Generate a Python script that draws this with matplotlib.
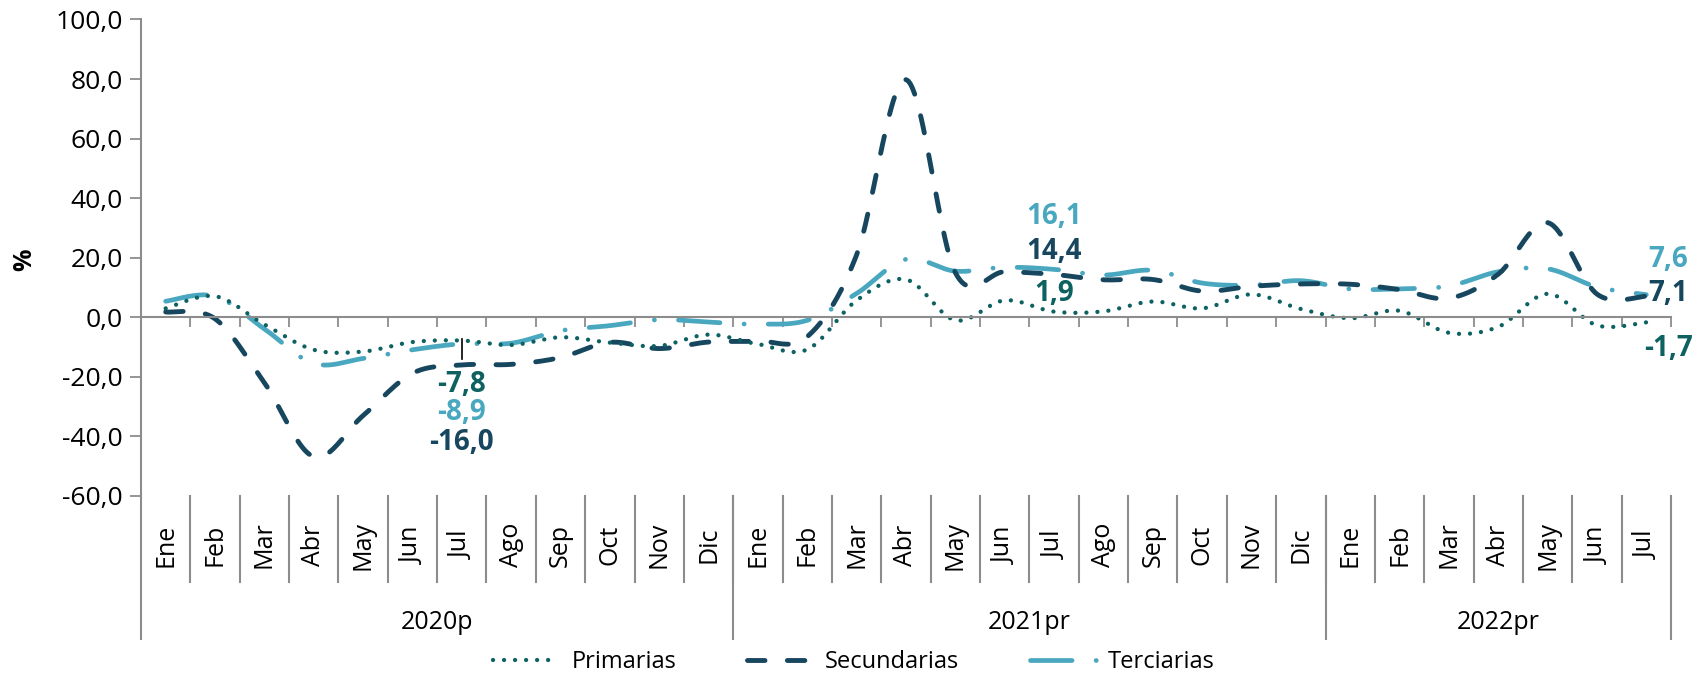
import numpy as np
import matplotlib
matplotlib.use("Agg")
import matplotlib.pyplot as plt
from matplotlib.lines import Line2D

plt.rcParams['font.family'] = ['Open Sans', 'DejaVu Sans']

months = ["Ene", "Feb", "Mar", "Abr", "May", "Jun", "Jul", "Ago", "Sep", "Oct", "Nov", "Dic"]
month_labels = months + months + months[:7]
years = ["2020p", "2021pr", "2022pr"]
year_lengths = [12, 12, 7]

# variacion anual (%), Ene 2020 - Jul 2022
primarias = [3.0, 7.1, -2.4, -10.9, -11.5, -8.3, -7.8, -9.3, -6.7, -8.5, -9.6, -5.8,
             -9.0, -10.8, 5.7, 12.7, -1.0, 5.7, 1.9, 2.0, 5.3, 3.0, 7.7, 2.8,
             -0.3, 2.2, -5.2, -3.2, 7.9, -2.7, -1.7]
secundarias = [1.8, -0.5, -22.0, -46.8, -33.0, -18.8, -16.0, -15.8, -13.5, -8.4, -10.5, -8.3,
               -8.0, -6.5, 21.0, 79.8, 15.0, 15.3, 14.4, 12.6, 12.7, 8.8, 10.4, 11.2,
               11.1, 9.3, 6.4, 14.5, 31.8, 7.8, 7.1]
terciarias = [5.4, 7.1, -3.9, -15.5, -13.8, -10.9, -8.9, -8.7, -4.5, -2.8, -0.8, -1.6,
              -2.3, -1.0, 8.0, 19.5, 15.5, 16.8, 16.1, 14.2, 15.8, 11.5, 10.8, 12.3,
              9.5, 9.6, 10.5, 15.3, 16.3, 10.2, 7.6]

C_PRIM = "#0E6161"
C_SEC = "#17465F"
C_TERC = "#49A7BF"
GRAY = "#8C8C8C"


def excel_smooth(values, steps=24):
    # bezier smoothing like excel's "smoothed line"
    pts = np.column_stack([np.arange(len(values), dtype=float), np.asarray(values, float)])
    padded = np.vstack([pts[0], pts, pts[-1]])
    t = np.linspace(0, 1, steps)[:, None]
    out = []
    for i in range(len(pts) - 1):
        p0, p1, p2, p3 = padded[i], padded[i + 1], padded[i + 2], padded[i + 3]
        c1 = p1 + (p2 - p0) / 6
        c2 = p2 - (p3 - p1) / 6
        seg = (1 - t) ** 3 * p1 + 3 * (1 - t) ** 2 * t * c1 + 3 * (1 - t) * t ** 2 * c2 + t ** 3 * p2
        out.append(seg if i == 0 else seg[1:])
    seg = np.vstack(out)
    return seg[:, 0], seg[:, 1]


fig = plt.figure(figsize=(16.98, 6.73), dpi=100)
ax = fig.add_axes([141 / 1698, 1 - 496 / 673, 1530 / 1698, 476.5 / 673])

styles = {
    "Primarias": dict(color=C_PRIM, lw=3.1, linestyle=(0, (0.01, 2.55)), dash_capstyle="round"),
    "Secundarias": dict(color=C_SEC, lw=3.5, linestyle=(0, (3.6, 4.6)), dash_capstyle="round"),
    "Terciarias": dict(color=C_TERC, lw=3.4, linestyle=(0, (8.8, 5.1, 0.03, 5.1)), dash_capstyle="round"),
}

for name, vals in [("Terciarias", terciarias), ("Secundarias", secundarias), ("Primarias", primarias)]:
    xs, ys = excel_smooth(vals)
    ax.plot(xs, ys, **styles[name])

ax.set_xlim(-0.5, 30.5)
ax.set_ylim(-60, 100)
yt = list(range(-60, 101, 20))
ax.set_yticks(yt)
ax.set_yticklabels([f"{v:.1f}".replace(".", ",") for v in yt])
ax.tick_params(axis="y", length=8, width=1.3, color=GRAY, labelsize=19, pad=5)

for s in ["top", "right"]:
    ax.spines[s].set_visible(False)
ax.spines["left"].set_color(GRAY)
ax.spines["left"].set_linewidth(1.5)
ax.spines["bottom"].set_position(("data", 0))
ax.spines["bottom"].set_color(GRAY)
ax.spines["bottom"].set_linewidth(1.5)
ax.set_xticks(np.arange(0.5, 31, 1))
ax.set_xticklabels([])
ax.tick_params(axis="x", length=7, width=1.3, color=GRAY, direction="out")

# category axis below the plot
tr = ax.get_xaxis_transform()
for i, lbl in enumerate(month_labels):
    ax.text(i, -0.103, lbl, transform=tr, rotation=90, ha="center", va="center", fontsize=18)
    if i < len(month_labels) - 1:
        ax.plot([i + 0.5, i + 0.5], [0, -0.18], transform=tr, color=GRAY, lw=1.5, clip_on=False)

start = -0.5
ax.plot([start, start], [0, -0.30], transform=tr, color=GRAY, lw=1.5, clip_on=False)
for yr, n in zip(years, year_lengths):
    end = start + n
    ax.plot([end, end], [0, -0.30], transform=tr, color=GRAY, lw=1.5, clip_on=False)
    ax.text((start + end) / 2, -0.2665, yr, transform=tr, ha="center", va="center", fontsize=18)
    start = end

# data labels
lab = dict(ha="center", va="center", fontsize=20, fontweight="bold", clip_on=False)
ax.plot([6, 6], [-7.3, -14.0], color="black", lw=1.2)
ax.text(6, -22.5, "-7,8", color=C_PRIM, **lab)
ax.text(6, -32.0, "-8,9", color=C_TERC, **lab)
ax.text(6, -42.1, "-16,0", color=C_SEC, **lab)
ax.text(18, 33.9, "16,1", color=C_TERC, **lab)
ax.text(18, 22.2, "14,4", color=C_SEC, **lab)
ax.text(18, 8.1, "1,9", color=C_PRIM, **lab)
ax.text(30.45, 19.4, "7,6", color=C_TERC, **lab)
ax.text(30.45, 8.1, "7,1", color=C_SEC, **lab)
ax.text(30.45, -10.4, "-1,7", color=C_PRIM, **lab)

fig.text(25 / 1698, 1 - 260 / 673, "%", rotation=90, fontweight="bold", fontsize=18,
         ha="center", va="center")

handles = [Line2D([], [], **styles[n]) for n in ["Primarias", "Secundarias", "Terciarias"]]
fig.legend(handles, ["Primarias", "Secundarias", "Terciarias"], loc="center",
           bbox_to_anchor=(0.503, 1 - 662 / 673), ncol=3, frameon=False, fontsize=17,
           handlelength=2.8, columnspacing=3.0, handletextpad=0.5)

fig.savefig("out.png", dpi=100)
